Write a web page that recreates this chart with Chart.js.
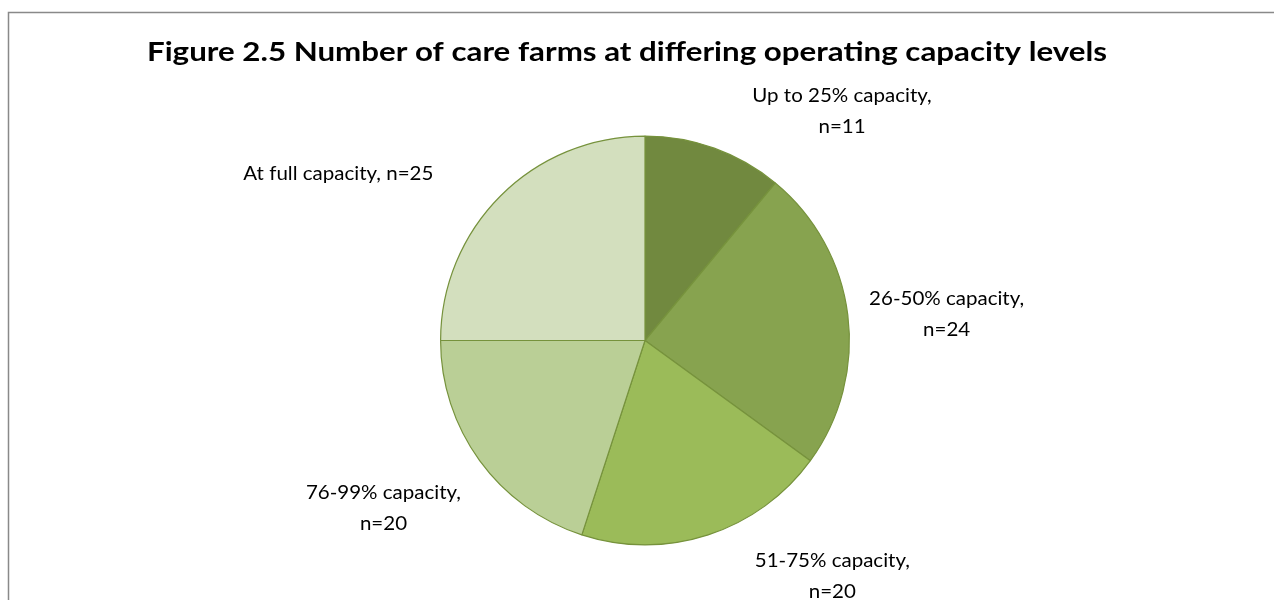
<!DOCTYPE html>
<html>
<head>
<meta charset="utf-8">
<title>Care farm operating capacity</title>
<script src="https://cdn.jsdelivr.net/npm/chart.js@4.4.1/dist/chart.umd.min.js"></script>
<style>
  html, body { margin: 0; padding: 0; background: #ffffff; }
  #wrap { width: 1274px; height: 600px; position: relative; }
</style>
</head>
<body>
<div id="wrap"><canvas id="chart" width="1274" height="600"></canvas></div>
<script>
// Capacity bands and number of care farms in each
const categories = [
  'Up to 25% capacity',
  '26-50% capacity',
  '51-75% capacity',
  '76-99% capacity',
  'At full capacity'
];
const farmCounts = [11, 24, 20, 20, 25];
const titleText = 'Figure 2.5 Number of care farms at differing operating capacity levels';

// Slice fills, darkest first, and the shared outline
const sliceColors = ['#71893F', '#87A34F', '#9BBB59', '#BACF96', '#D3DFBE'];
const outlineColor = '#76923C';

// Label layout: text lines per slice, and a nudge from the slice's outward anchor
const labelLines = farmCounts.map((n, i) =>
  i === 4 ? [categories[i] + ', n=' + n] : [categories[i] + ',', 'n=' + n]);
const labelNudge = [[121, -27], [79, -7], [118, 13], [-80, 27], [-148, -2]];
const labelGap = 20;
const lineStep = 31;

const frameAndText = {
  id: 'frameAndText',
  afterDraw(chart) {
    const ctx = chart.ctx;
    ctx.save();
    // outer frame
    ctx.strokeStyle = '#898989';
    ctx.lineWidth = 1.5;
    ctx.strokeRect(8.5, 12.5, 1300, 700);

    // title, narrowed to the width of the bold heading
    ctx.fillStyle = '#000000';
    ctx.font = 'bold 26px Lato';
    ctx.textAlign = 'center';
    ctx.textBaseline = 'alphabetic';
    const tw = ctx.measureText(titleText).width;
    const tScale = 960 / tw;
    ctx.save();
    ctx.translate(627, 61);
    ctx.scale(tScale, 1);
    ctx.fillText(titleText, 0, 0);
    ctx.restore();

    // slice labels
    const meta = chart.getDatasetMeta(0);
    ctx.font = '18.5px Lato';
    const ref = ctx.measureText('At full capacity, n=25').width;
    const lScale = 190 / ref;
    meta.data.forEach((arc, i) => {
      const p = arc.getProps(['x', 'y', 'startAngle', 'endAngle', 'outerRadius'], true);
      const mid = (p.startAngle + p.endAngle) / 2;
      const d = p.outerRadius + labelGap;
      const ax = p.x + Math.cos(mid) * d + labelNudge[i][0];
      const ay = p.y + Math.sin(mid) * d + labelNudge[i][1];
      labelLines[i].forEach((line, k) => {
        ctx.save();
        ctx.translate(ax, ay + k * lineStep);
        ctx.scale(lScale, 1);
        ctx.fillText(line, 0, 0);
        ctx.restore();
      });
    });
    ctx.restore();
  }
};

new Chart(document.getElementById('chart'), {
  type: 'pie',
  data: {
    labels: categories,
    datasets: [{
      data: farmCounts,
      backgroundColor: sliceColors,
      borderColor: outlineColor,
      borderWidth: 1.2
    }]
  },
  options: {
    responsive: false,
    animation: false,
    rotation: 0,
    layout: { padding: { left: 440, right: 424, top: 135, bottom: 54 } },
    plugins: {
      legend: { display: false },
      title: { display: false },
      tooltip: { enabled: false }
    }
  },
  plugins: [frameAndText]
});
</script>
</body>
</html>
